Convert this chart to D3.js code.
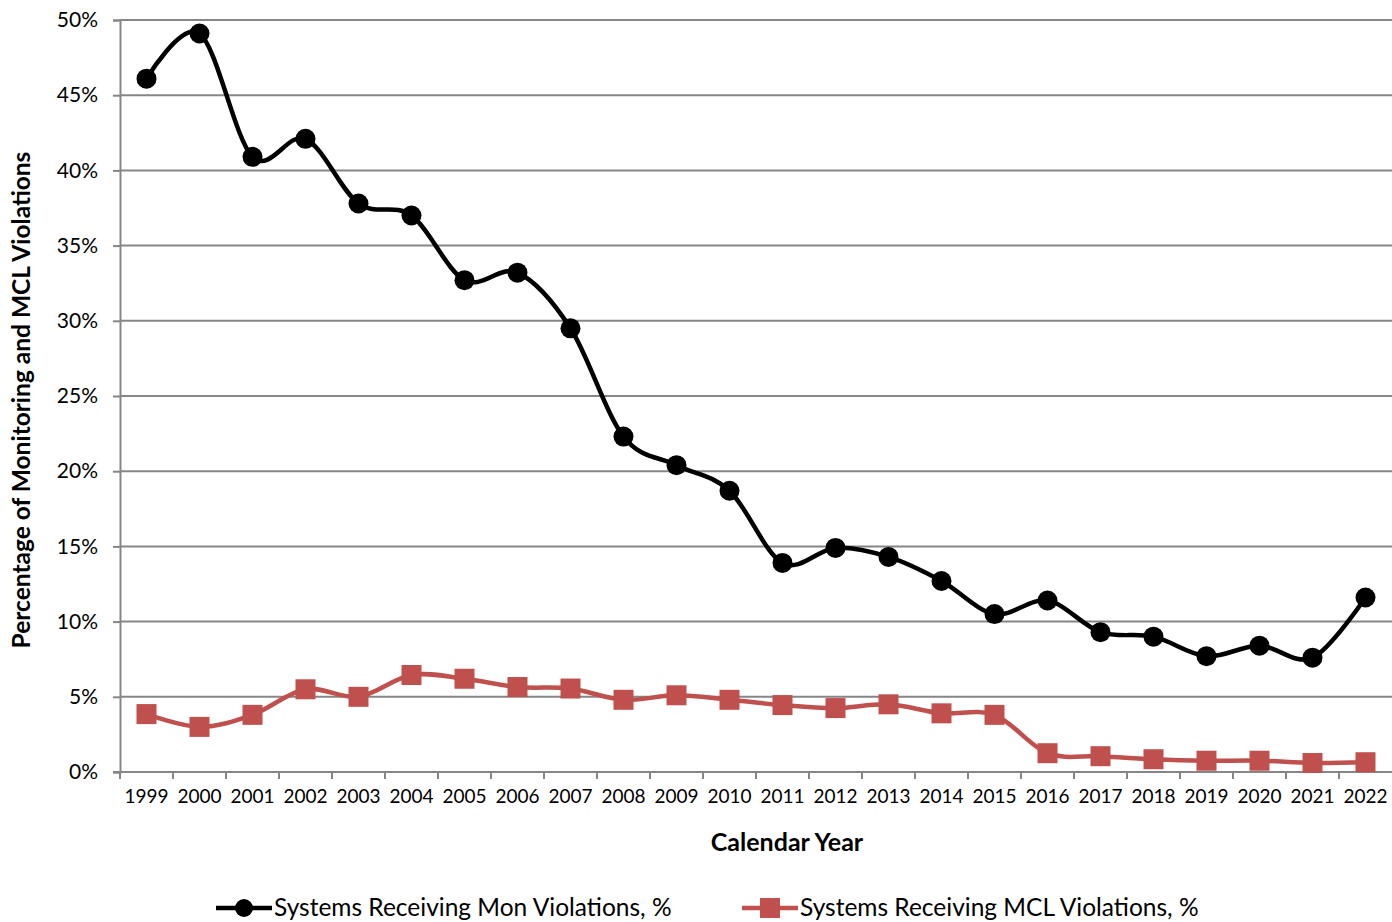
<!DOCTYPE html>
<html>
<head>
<meta charset="utf-8">
<script src="https://cdn.jsdelivr.net/npm/d3@7"></script>
<style>
  html, body { margin: 0; padding: 0; background: #fff; }
  svg { display: block; font-family: Lato, "Open Sans", sans-serif; }
</style>
</head>
<body>
<svg id="chart" width="1392" height="922"></svg>
<script>
// Calendar years on the x axis
const years = ["1999","2000","2001","2002","2003","2004","2005","2006","2007","2008","2009","2010",
               "2011","2012","2013","2014","2015","2016","2017","2018","2019","2020","2021","2022"];

// Share of systems receiving monitoring violations (%)
const monViolations = [46.1, 49.1, 40.9, 42.1, 37.8, 37.0, 32.7, 33.2, 29.5, 22.3, 20.4, 18.7,
                       13.9, 14.9, 14.3, 12.7, 10.5, 11.4, 9.3, 9.0, 7.7, 8.4, 7.6, 11.6];

// Share of systems receiving MCL violations (%)
const mclViolations = [3.85, 3.0, 3.8, 5.5, 5.0, 6.45, 6.2, 5.65, 5.55, 4.8, 5.1, 4.8,
                       4.45, 4.25, 4.5, 3.9, 3.8, 1.25, 1.05, 0.85, 0.75, 0.75, 0.6, 0.65];

// Y axis ticks (%)
const yTicks = [0, 5, 10, 15, 20, 25, 30, 35, 40, 45, 50];

const seriesNames = ["Systems Receiving Mon Violations, %", "Systems Receiving MCL Violations, %"];

const svg = d3.select("#chart");
const plotLeft = 120, plotRight = 1392, plotTop = 20, plotBottom = 772;
const gridColor = "#868686";
const black = "#000000", red = "#c0504d";

const x = d3.scaleBand().domain(years).range([plotLeft, plotRight]);
const y = d3.scaleLinear().domain([0, 50]).range([plotBottom, plotTop]);
const cx = d => x(d) + x.bandwidth() / 2;

// Horizontal gridlines
svg.append("g").selectAll("line").data(yTicks.filter(t => t > 0)).join("line")
  .attr("x1", plotLeft).attr("x2", plotRight)
  .attr("y1", d => y(d)).attr("y2", d => y(d))
  .attr("stroke", gridColor).attr("stroke-width", 2);

// Y axis
const yAxis = svg.append("g").attr("transform", `translate(${plotLeft},0)`)
  .call(d3.axisLeft(y).tickValues(yTicks).tickFormat(d => d + "%").tickSize(7).tickPadding(15));
yAxis.select(".domain").attr("stroke", gridColor).attr("stroke-width", 2);
yAxis.selectAll(".tick line").attr("stroke", gridColor).attr("stroke-width", 2);
yAxis.selectAll(".tick text").attr("font-size", 21).attr("fill", "#000")
  .attr("font-family", "Lato, sans-serif");

// X axis
const xAxis = svg.append("g").attr("transform", `translate(0,${plotBottom})`)
  .call(d3.axisBottom(x).tickSize(0).tickPadding(18));
xAxis.select(".domain").remove();
xAxis.selectAll(".tick text").attr("font-size", 19).attr("fill", "#000")
  .attr("font-family", "Lato, sans-serif");
svg.append("line").attr("x1", plotLeft - 7).attr("x2", plotRight)
  .attr("y1", plotBottom).attr("y2", plotBottom)
  .attr("stroke", gridColor).attr("stroke-width", 2);
// Category boundary tick marks
svg.append("g").selectAll("line").data(years).join("line")
  .attr("x1", d => x(d)).attr("x2", d => x(d))
  .attr("y1", plotBottom).attr("y2", plotBottom + 7)
  .attr("stroke", gridColor).attr("stroke-width", 2);

// Axis titles
svg.append("text")
  .attr("transform", `translate(30,400) rotate(-90)`)
  .attr("text-anchor", "middle").attr("font-size", 24.5).attr("font-weight", "bold")
  .text("Percentage of Monitoring and MCL Violations");
svg.append("text")
  .attr("x", 787).attr("y", 851)
  .attr("text-anchor", "middle").attr("font-size", 25).attr("font-weight", "bold")
  .text("Calendar Year");

const curve = d3.curveCardinal.tension(0);
const line = d3.line().x((d, i) => cx(years[i])).y(d => y(d)).curve(curve);

// MCL violations series
svg.append("path").datum(mclViolations)
  .attr("d", line).attr("fill", "none")
  .attr("stroke", red).attr("stroke-width", 4.5).attr("stroke-linejoin", "round");
svg.append("g").selectAll("rect").data(mclViolations).join("rect")
  .attr("x", (d, i) => cx(years[i]) - 10).attr("y", d => y(d) - 10)
  .attr("width", 20).attr("height", 20).attr("fill", red);

// Monitoring violations series
svg.append("path").datum(monViolations)
  .attr("d", line).attr("fill", "none")
  .attr("stroke", black).attr("stroke-width", 4.5).attr("stroke-linejoin", "round");
svg.append("g").selectAll("circle").data(monViolations).join("circle")
  .attr("cx", (d, i) => cx(years[i])).attr("cy", d => y(d))
  .attr("r", 10).attr("fill", black);

// Legend along the bottom edge
const legend = svg.append("g");
const legItems = [
  { name: seriesNames[0], color: black, shape: "circle", x0: 216 },
  { name: seriesNames[1], color: red, shape: "square", x0: 742 }
];
const ly = 908;
legItems.forEach(it => {
  legend.append("line").attr("x1", it.x0).attr("x2", it.x0 + 56)
    .attr("y1", ly).attr("y2", ly).attr("stroke", it.color).attr("stroke-width", 4.5);
  if (it.shape === "circle") {
    legend.append("circle").attr("cx", it.x0 + 28).attr("cy", ly).attr("r", 9).attr("fill", it.color);
  } else {
    legend.append("rect").attr("x", it.x0 + 18).attr("y", ly - 10)
      .attr("width", 20).attr("height", 20).attr("fill", it.color);
  }
  legend.append("text").attr("x", it.x0 + 58).attr("y", 915.5)
    .attr("font-size", 24.5).attr("fill", "#000").text(it.name);
});
</script>
</body>
</html>
